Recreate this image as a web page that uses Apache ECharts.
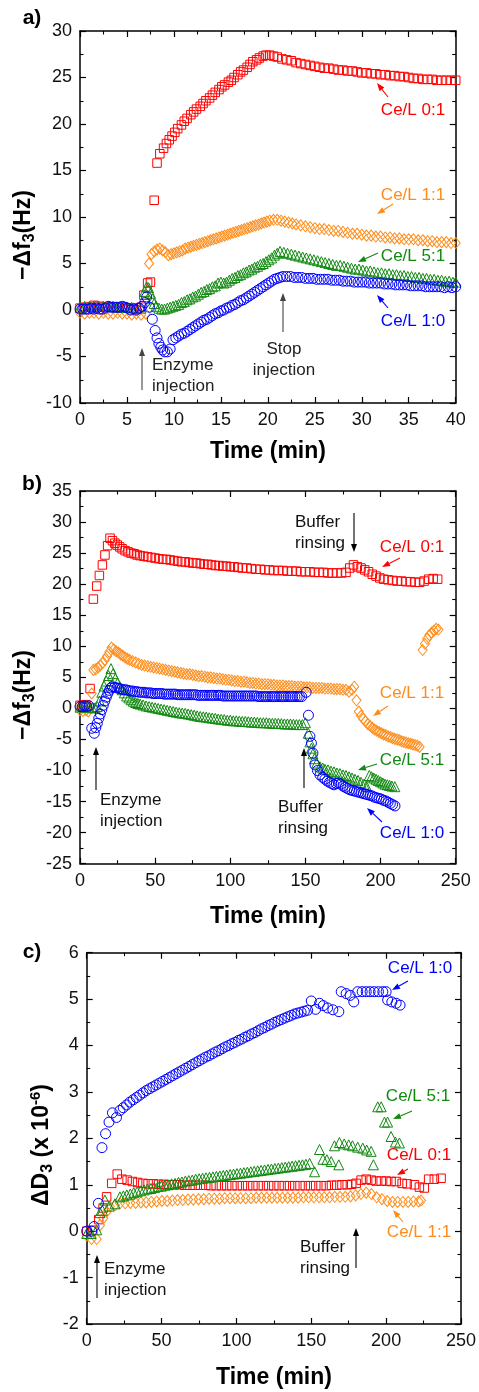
<!DOCTYPE html>
<html><head><meta charset="utf-8">
<script src="https://cdn.jsdelivr.net/npm/echarts@6/dist/echarts.min.js"></script>
<style>html,body{margin:0;padding:0;background:#fff}#c{width:479px;height:1392px}</style>
</head><body><div id="c"></div>
<script>
// ---------- Panel a: -Δf3 (Hz) vs time (min) ----------
const aRed = [[0,0.2],[0.5,0.3],[1,0.3],[1.5,0.5],[2,0.4],[2.5,0.3],[3,0.3],[3.5,0.3],[4,0.3],[4.5,0.2],[5,0.2],[5.5,0.2],[6,0.2],[6.5,0.3],[6.8,1.6],[7.2,2.9],[7.5,3.0],[7.9,11.8],[8.2,15.8],[8.5,16.8],[8.9,17.4],[9.2,17.9],[9.5,18.3],[9.8,18.7],[10.1,19.1],[10.4,19.5],[10.8,19.9],[11.1,20.3],[11.4,20.6],[11.8,21.0],[12.1,21.3],[12.4,21.6],[12.8,21.9],[13.1,22.2],[13.4,22.5],[13.8,22.8],[14.1,23.1],[14.4,23.4],[14.8,23.7],[15.1,24.0],[15.4,24.2],[15.8,24.5],[16.1,24.7],[16.4,25.0],[16.8,25.3],[17.1,25.6],[17.4,25.8],[17.8,26.1],[18.1,26.4],[18.4,26.7],[18.8,26.9],[19.1,27.1],[19.5,27.3],[19.8,27.4],[20.2,27.4],[20.6,27.3],[21.0,27.2],[21.5,27.0],[22.0,26.9],[22.5,26.8],[23.0,26.6],[23.5,26.5],[24.0,26.4],[24.5,26.3],[25.0,26.2],[25.5,26.1],[26.0,26.0],[26.5,26.0],[27.0,25.9],[27.5,25.8],[28.0,25.8],[28.5,25.7],[29.0,25.7],[29.5,25.6],[30.0,25.5],[30.5,25.5],[31.0,25.4],[31.5,25.4],[32.0,25.3],[32.5,25.3],[33.0,25.2],[33.5,25.2],[34.0,25.1],[34.5,25.1],[35.0,25.0],[35.5,24.9],[36.0,24.9],[36.5,24.8],[37.0,24.8],[37.5,24.8],[38.0,24.7],[38.5,24.7],[39.0,24.7],[39.5,24.7],[40,24.7]];
const aOrange = [[0,-0.3],[0.5,-0.4],[1,-0.3],[1.5,-0.3],[2,-0.4],[2.5,-0.3],[3,-0.4],[3.5,-0.4],[4,-0.3],[4.5,-0.4],[5,-0.4],[5.5,-0.5],[6,-0.4],[6.5,-0.5],[7.0,-0.4],[7.35,5.0],[7.6,6.0],[7.9,6.3],[8.2,6.5],[8.5,6.6],[8.8,6.4],[9.1,6.2],[9.4,5.9],[9.7,6.0],[10.0,6.1],[10.3,6.2],[10.6,6.3],[10.9,6.4],[11.2,6.6],[11.5,6.7],[11.8,6.8],[12.1,6.9],[12.4,7.0],[12.7,7.1],[13.0,7.2],[13.3,7.3],[13.6,7.4],[13.9,7.5],[14.2,7.6],[14.5,7.7],[14.8,7.8],[15.1,7.9],[15.4,8.0],[15.7,8.1],[16.0,8.2],[16.3,8.3],[16.6,8.4],[16.9,8.5],[17.2,8.6],[17.5,8.7],[17.8,8.8],[18.1,8.9],[18.4,9.0],[18.7,9.1],[19.0,9.2],[19.3,9.3],[19.6,9.4],[19.9,9.5],[20.2,9.6],[20.6,9.7],[21.0,9.7],[21.4,9.6],[21.8,9.5],[22.2,9.4],[22.6,9.3],[23.0,9.2],[23.5,9.1],[24.0,9.0],[24.5,8.9],[25.0,8.8],[25.5,8.7],[26.0,8.7],[26.5,8.6],[27.0,8.5],[27.5,8.5],[28.0,8.4],[28.5,8.3],[29.0,8.2],[29.5,8.2],[30.0,8.1],[30.5,8.0],[31.0,8.0],[31.5,7.9],[32.0,7.9],[32.5,7.8],[33.0,7.8],[33.5,7.7],[34.0,7.7],[34.5,7.6],[35.0,7.6],[35.5,7.6],[36.0,7.5],[36.5,7.5],[37.0,7.4],[37.5,7.4],[38.0,7.3],[38.5,7.3],[39.0,7.3],[39.5,7.2],[40.0,7.2]];
const aGreen = [[0,0.3],[0.5,0.4],[1,0.4],[1.5,0.4],[2,0.4],[2.5,0.4],[3,0.4],[3.5,0.4],[4,0.3],[4.5,0.3],[5,0.3],[5.5,0.3],[6,0.2],[6.5,0.2],[6.9,2.0],[7.1,2.5],[7.3,2.4],[7.5,1.8],[7.7,1.2],[7.9,0.7],[8.1,0.4],[8.4,0.2],[8.7,0.1],[9.0,0.1],[9.3,0.2],[9.6,0.3],[9.9,0.4],[10.2,0.5],[10.5,0.6],[10.8,0.8],[11.1,0.9],[11.4,1.1],[11.7,1.2],[12.0,1.4],[12.3,1.5],[12.6,1.7],[12.9,1.9],[13.2,2.0],[13.5,2.2],[13.8,2.3],[14.1,2.5],[14.4,2.6],[14.7,2.9],[15.0,3.0],[15.3,2.9],[15.6,3.0],[15.9,3.2],[16.2,3.4],[16.5,3.5],[16.8,3.7],[17.1,3.8],[17.4,4.0],[17.7,4.1],[18.0,4.3],[18.3,4.4],[18.6,4.6],[18.9,4.7],[19.2,4.9],[19.5,5.0],[19.8,5.2],[20.1,5.4],[20.4,5.6],[20.7,5.9],[21.0,6.1],[21.3,6.3],[21.7,6.2],[22.1,6.1],[22.5,6.0],[22.9,5.9],[23.3,5.8],[23.7,5.7],[24.1,5.6],[24.5,5.5],[24.9,5.4],[25.3,5.3],[25.7,5.2],[26.1,5.1],[26.5,5.0],[26.9,4.9],[27.3,4.8],[27.7,4.8],[28.1,4.7],[28.5,4.6],[28.9,4.5],[29.3,4.4],[29.7,4.4],[30.1,4.3],[30.5,4.2],[30.9,4.2],[31.3,4.1],[31.7,4.0],[32.1,4.0],[32.5,3.9],[32.9,3.9],[33.3,3.8],[33.7,3.8],[34.1,3.7],[34.5,3.7],[34.9,3.6],[35.3,3.6],[35.7,3.5],[36.1,3.5],[36.5,3.4],[36.9,3.4],[37.3,3.3],[37.7,3.3],[38.1,3.2],[38.5,3.2],[38.9,3.1],[39.3,3.1],[39.7,3.0],[40,3.0]];
const aBlue = [[0,0.1],[0.3,0.1],[0.6,0.1],[0.9,0.1],[1.2,0.2],[1.5,0.1],[1.8,0.2],[2.1,0.1],[2.4,0.1],[2.7,0.2],[3.0,0.4],[3.3,0.3],[3.6,0.3],[3.9,0.3],[4.2,0.3],[4.5,0.4],[4.8,0.3],[5.1,0.2],[5.4,0.0],[5.7,0.1],[6.0,0.0],[6.3,0.2],[6.6,0.4],[6.9,0.8],[7.1,1.4],[7.4,0.3],[7.7,-1.0],[8.0,-2.2],[8.2,-3.0],[8.4,-3.6],[8.6,-4.0],[8.8,-4.3],[9.0,-4.5],[9.3,-4.5],[9.6,-4.2],[9.9,-3.2],[10.2,-3.0],[10.5,-2.8],[10.8,-2.6],[11.1,-2.5],[11.4,-2.3],[11.7,-2.1],[12.0,-1.9],[12.3,-1.7],[12.6,-1.5],[12.9,-1.3],[13.2,-1.1],[13.5,-1.0],[13.8,-0.8],[14.1,-0.6],[14.4,-0.4],[14.7,-0.3],[15.0,-0.1],[15.3,0.0],[15.6,0.2],[15.9,0.3],[16.2,0.5],[16.5,0.6],[16.8,0.8],[17.1,1.0],[17.4,1.1],[17.7,1.3],[18.0,1.5],[18.3,1.7],[18.6,1.9],[18.9,2.1],[19.2,2.3],[19.5,2.5],[19.8,2.7],[20.1,2.9],[20.4,3.1],[20.7,3.3],[21.0,3.4],[21.3,3.5],[21.6,3.6],[22.0,3.6],[22.4,3.6],[22.8,3.5],[23.2,3.5],[23.6,3.5],[24.0,3.4],[24.4,3.4],[24.8,3.4],[25.2,3.3],[25.6,3.3],[26.0,3.3],[26.4,3.3],[26.8,3.2],[27.2,3.2],[27.6,3.2],[28.0,3.1],[28.4,3.1],[28.8,3.1],[29.2,3.0],[29.6,3.0],[30.0,3.0],[30.4,3.0],[30.8,2.9],[31.2,2.9],[31.6,2.9],[32.0,2.9],[32.4,2.8],[32.8,2.8],[33.2,2.8],[33.6,2.7],[34.0,2.7],[34.4,2.7],[34.8,2.7],[35.2,2.6],[35.6,2.6],[36.0,2.6],[36.4,2.6],[36.8,2.5],[37.2,2.5],[37.6,2.5],[38.0,2.5],[38.4,2.5],[38.8,2.4],[39.2,2.5],[39.6,2.4],[40.0,2.5]];

// ---------- Panel b: -Δf3 (Hz) vs time (min) ----------
const bRed = [[0,0.5],[2,0.5],[4,0.6],[6.7,3.2],[8.9,17.6],[11.1,19.7],[12.9,21.4],[14.9,23.1],[16.6,24.7],[18.4,26.2],[20.0,27.4],[21.6,27.0],[23.2,26.6],[24.8,26.3],[26.4,26.0],[28.0,25.7],[30,25.4],[32,25.2],[34,25.0],[36,24.9],[38,24.7],[40,24.6],[42.5,24.5],[45,24.4],[47.5,24.3],[50,24.2],[52.5,24.1],[55,24.0],[57.5,24.0],[60,23.9],[62.5,23.8],[65,23.7],[67.5,23.6],[70,23.6],[72.5,23.5],[75,23.4],[77.5,23.4],[80,23.3],[82.5,23.2],[85,23.2],[87.5,23.1],[90,23.0],[92.5,23.0],[95,22.9],[97.5,22.9],[100,22.8],[102.5,22.8],[105,22.7],[108,22.6],[111,22.6],[114,22.5],[117,22.4],[120,22.4],[123,22.3],[126,22.3],[129,22.2],[132,22.2],[135,22.2],[138,22.1],[141,22.1],[144,22.1],[147,22.0],[150,22.0],[153,22.0],[156,21.9],[159,21.9],[162,21.9],[165,21.8],[168,21.8],[171,21.8],[174,21.8],[177,21.9],[179.5,22.6],[182,23.1],[184.5,22.8],[187,22.6],[189.5,22.3],[192,22.0],[194.5,21.6],[197,21.3],[199.5,21.0],[202,20.8],[205,20.7],[208,20.6],[211,20.5],[214,20.5],[217,20.4],[220,20.4],[223,20.3],[226,20.3],[229,20.5],[232,20.8],[235,20.9],[238,20.8]];
const bOrange = [[0,-0.3],[2,-0.4],[4,-0.3],[5.5,-0.5],[7.8,2.4],[8.9,6.2],[10.5,6.3],[12,6.6],[13.5,6.9],[15,7.3],[16.5,7.8],[18,8.4],[19.5,9.1],[21,9.8],[22.5,9.5],[24,9.2],[25.5,9.0],[27,8.7],[28.5,8.5],[30,8.2],[31.5,8.0],[33,7.8],[35,7.6],[37,7.4],[39,7.2],[41,7.0],[43,6.9],[45,6.8],[47,6.7],[49,6.6],[51,6.5],[53,6.4],[55,6.3],[57,6.2],[59,6.1],[61,6.0],[63,5.9],[65,5.8],[67,5.7],[69,5.6],[71,5.5],[73,5.5],[75,5.4],[77,5.3],[79,5.2],[81,5.2],[83,5.1],[85,5.0],[87,5.0],[89,4.9],[91,4.8],[93,4.8],[95,4.7],[97,4.6],[99,4.6],[101,4.5],[103,4.4],[105,4.4],[107,4.3],[109,4.3],[111,4.2],[113,4.1],[115,4.1],[117,4.0],[119,4.0],[121,3.9],[123,3.9],[125,3.9],[127,3.8],[129,3.8],[131,3.7],[133,3.7],[135,3.7],[137,3.6],[139,3.6],[141,3.6],[143,3.5],[145,3.5],[147,3.5],[149,3.4],[151,3.4],[153,3.4],[155,3.3],[157,3.3],[159,3.3],[161,3.3],[163,3.2],[165,3.2],[167,3.2],[169,3.1],[171,3.1],[173,3.1],[175,3.0],[177,3.0],[179,2.7],[181,3.0],[182.5,3.5],[184,1.3],[185.5,-0.5],[187,-1.2],[188.5,-1.7],[190,-2.1],[191.5,-2.5],[193,-2.8],[194.5,-3.1],[196,-3.4],[197.5,-3.6],[199,-3.8],[200.5,-4.0],[202,-4.2],[203.5,-4.3],[205,-4.5],[206.5,-4.6],[208,-4.8],[209.5,-4.9],[211,-5.0],[212.5,-5.1],[214,-5.3],[215.5,-5.4],[217,-5.5],[218.5,-5.6],[220,-5.7],[221.5,-5.8],[223,-5.9],[224.5,-6.0],[226,-6.2],[228,9.4],[229.5,10.4],[231,11.2],[232.5,11.8],[234,12.2],[235.5,12.5],[237,12.8],[238.5,12.7]];
const bGreen = [[0,0.2],[2,0.3],[4,0.2],[6,0.2],[8,0.1],[10,0.1],[11.5,0.3],[13,1.2],[14.5,2.6],[16,3.6],[17.5,4.4],[19,5.3],[20.6,6.4],[22,5.6],[23.5,4.8],[25,4.1],[26.5,3.5],[28,3.0],[29.5,2.5],[31,2.0],[32.5,1.7],[34,1.4],[35.5,1.15],[37,0.95],[38.5,0.8],[40,0.7],[42,0.55],[44,0.4],[46,0.3],[48,0.2],[50,0.1],[52,0.0],[54,-0.1],[56,-0.2],[58,-0.3],[60,-0.4],[62,-0.5],[64,-0.6],[66,-0.7],[68,-0.75],[70,-0.8],[72,-0.9],[74,-1.0],[76,-1.1],[78,-1.2],[80,-1.3],[82,-1.35],[84,-1.4],[86,-1.5],[88,-1.55],[90,-1.6],[92,-1.7],[94,-1.75],[96,-1.8],[98,-1.9],[100,-1.9],[102,-2.0],[104,-2.0],[106,-2.05],[108,-2.1],[110,-2.1],[112,-2.15],[114,-2.2],[116,-2.2],[118,-2.25],[120,-2.3],[122,-2.3],[124,-2.3],[126,-2.35],[128,-2.4],[130,-2.4],[132,-2.4],[134,-2.45],[136,-2.5],[138,-2.5],[140,-2.5],[142,-2.55],[144,-2.6],[146,-2.6],[148,-2.6],[150,-2.3],[151.9,-4.0],[153,-5.4],[154,-6.4],[155,-7.3],[156,-8.1],[157.5,-8.8],[159.7,-9.4],[161.5,-9.6],[163,-9.8],[165,-9.9],[167,-10.1],[169,-10.2],[171,-10.4],[173,-10.5],[175,-10.7],[177,-10.8],[179,-11.0],[181,-11.2],[183,-11.4],[185,-11.6],[187,-11.9],[189,-12.2],[190.8,-12.6],[192.5,-10.8],[194,-11.0],[195.5,-11.2],[197,-11.4],[198.5,-11.6],[200,-11.8],[201.5,-12.0],[203,-12.2],[204.5,-12.3],[206,-12.4],[207.5,-12.5],[209.5,-12.6]];
const bBlue = [[0,0.3],[1.5,0.3],[3,0.4],[4.5,0.3],[6,0.4],[7.8,-3.2],[9.5,-4.0],[10.5,-3.1],[11.5,-2.4],[12.5,-1.6],[13.5,-0.9],[14.5,-0.2],[15.5,0.5],[16.5,1.2],[17.5,1.8],[18.5,2.4],[19.5,2.9],[20.5,3.3],[21.5,3.5],[23,3.4],[24.5,3.3],[26,3.2],[27.5,3.1],[29,3.0],[30.5,3.0],[32,2.9],[33.5,2.8],[35,2.8],[36.5,2.7],[38,2.7],[39.5,2.6],[41,2.6],[42.5,2.6],[44,2.5],[45.5,2.5],[47,2.5],[48.5,2.4],[50,2.4],[51.5,2.4],[53,2.4],[54.5,2.4],[56,2.3],[57.5,2.3],[59,2.3],[60.5,2.3],[62,2.3],[63.5,2.3],[65,2.2],[66.5,2.2],[68,2.2],[69.5,2.2],[71,2.2],[72.5,2.2],[74,2.2],[75.5,2.2],[77,2.2],[78.5,2.1],[80,2.1],[81.5,2.1],[83,2.1],[84.5,2.1],[86,2.1],[87.5,2.1],[89,2.1],[90.5,2.1],[92,2.1],[93.5,2.1],[95,2.0],[96.5,2.0],[98,2.0],[99.5,2.0],[101,2.0],[102.5,2.0],[104,2.0],[105.5,2.0],[107,2.0],[108.5,2.0],[110,2.0],[111.5,2.0],[113,2.0],[114.5,2.0],[116,2.0],[117.5,2.0],[119,1.9],[120.5,1.9],[122,1.9],[123.5,1.9],[125,1.9],[126.5,1.9],[128,1.9],[129.5,1.9],[131,1.9],[132.5,1.9],[134,1.9],[135.5,1.9],[137,1.9],[138.5,1.9],[140,1.9],[141.5,1.9],[143,1.9],[144.5,1.9],[146,1.9],[147.5,1.9],[150.5,2.6],[152,-1.1],[153,-4.5],[154,-5.6],[155,-7.2],[156.4,-9.1],[158,-10.0],[159.7,-10.7],[161.5,-11.1],[163,-11.4],[164.5,-11.7],[166,-11.9],[167.5,-12.1],[169,-12.3],[170.5,-12.1],[172,-12.0],[173.5,-12.2],[175,-12.5],[176.5,-12.7],[178,-12.9],[179.5,-13.1],[181,-13.2],[182.5,-13.3],[184,-13.4],[185.5,-13.5],[187,-13.6],[188.5,-13.7],[190,-13.8],[191.5,-13.9],[193,-14.0],[194.5,-14.1],[196,-14.3],[197.5,-14.4],[199,-14.5],[200.5,-14.6],[202,-14.8],[203.5,-14.9],[205,-15.1],[206.5,-15.3],[208,-15.5],[209.6,-15.7]];

// ---------- Panel c: ΔD3 (x 10^-6) vs time (min) ----------
const cRed = [[0,0.0],[4,0.02],[8,0.25],[11,0.5],[13.3,0.74],[16.7,1.03],[20.4,1.23],[23.5,1.12],[27,1.1],[30.5,1.07],[34,1.05],[37.5,1.03],[41,1.02],[44.5,1.02],[48,1.01],[51.5,1.01],[55,1.0],[58.5,1.0],[62,1.0],[65.5,0.99],[69,0.99],[72.5,0.99],[76,0.99],[79.5,0.99],[83,0.98],[86.5,0.98],[90,0.98],[93.5,0.98],[97,0.98],[100.5,0.98],[104,0.98],[107.5,0.98],[111,0.98],[114.5,0.98],[118,0.98],[121.5,0.98],[125,0.98],[128.5,0.98],[132,0.98],[135.5,0.98],[139,0.98],[142.5,0.98],[146,0.98],[149.5,0.98],[153,0.98],[156.5,0.98],[160,0.98],[163.5,0.99],[167,0.99],[170.5,1.0],[174,1.0],[177,1.01],[180,1.03],[183.3,1.1],[186.7,1.12],[190,1.1],[193.3,1.08],[196.7,1.08],[200,1.08],[203.3,1.07],[206.7,1.07],[210.7,1.03],[214,1.02],[218.9,1.0],[222.2,0.95],[225.5,0.93],[228.4,1.12],[232.2,1.12],[236.7,1.14]];
const cOrange = [[0,-0.1],[3.3,-0.17],[6.7,-0.17],[8.9,0.13],[11.1,0.28],[13.3,0.42],[15.5,0.53],[18.9,0.56],[22.2,0.6],[25.7,0.6],[29.2,0.61],[32.7,0.61],[36.2,0.62],[39.7,0.62],[43.2,0.63],[46.7,0.64],[50.2,0.65],[53.7,0.65],[57.2,0.66],[60.7,0.67],[64.2,0.67],[67.7,0.68],[71.2,0.68],[74.7,0.69],[78.2,0.69],[81.7,0.7],[85.2,0.7],[88.7,0.7],[92.2,0.71],[95.7,0.71],[99.2,0.71],[102.7,0.71],[106.2,0.71],[109.7,0.71],[113.2,0.72],[116.7,0.72],[120.2,0.72],[123.7,0.72],[127.2,0.72],[130.7,0.72],[134.2,0.72],[137.7,0.72],[141.2,0.72],[144.7,0.73],[148.2,0.73],[151.7,0.73],[155.2,0.73],[158.7,0.73],[162.2,0.73],[165.7,0.74],[169.2,0.74],[172.7,0.74],[176.2,0.75],[179.7,0.77],[183.2,0.8],[186.7,0.83],[190.2,0.8],[193.7,0.73],[197.2,0.69],[200.7,0.65],[204.2,0.63],[207.7,0.63],[211.2,0.63],[214.7,0.63],[218.2,0.64],[221.7,0.64],[223.3,0.66]];
const cGreen = [[0,-0.05],[3,-0.05],[6.7,0.03],[8.9,0.4],[10.5,0.45],[12.2,0.67],[15,0.54],[18.9,0.59],[22.2,0.74],[24.5,0.76],[26.8,0.78],[29.1,0.8],[31.4,0.83],[33.7,0.85],[36,0.87],[38.3,0.89],[40.6,0.91],[42.9,0.92],[45.2,0.94],[47.5,0.96],[49.8,0.97],[52.1,0.99],[54.4,1.0],[56.7,1.02],[59,1.03],[61.3,1.05],[63.6,1.06],[65.9,1.08],[68.2,1.09],[70.5,1.1],[72.8,1.12],[75.1,1.13],[77.4,1.14],[79.7,1.15],[82,1.16],[84.3,1.17],[86.6,1.18],[88.9,1.19],[91.2,1.2],[93.5,1.21],[95.8,1.22],[98.1,1.23],[100.4,1.24],[102.7,1.25],[105,1.26],[107.3,1.27],[109.6,1.28],[111.9,1.29],[114.2,1.3],[116.5,1.31],[118.8,1.32],[121.1,1.33],[123.4,1.34],[125.7,1.35],[128,1.36],[130.3,1.37],[132.6,1.38],[134.9,1.39],[137.2,1.4],[139.5,1.41],[141.8,1.42],[144.1,1.43],[146.4,1.44],[148.9,1.46],[152.2,1.28],[155.5,1.76],[157.8,1.55],[160.4,1.54],[163.3,1.5],[165.5,1.84],[168.4,1.43],[168.8,1.91],[172,1.88],[175,1.86],[177.5,1.84],[181,1.81],[184.4,1.79],[187,1.75],[190,1.72],[191.5,1.43],[194.4,2.68],[196.7,2.68],[198.9,2.35],[201,2.35],[203.3,2.04],[206.2,1.92],[208.9,1.9]];
const cBlue = [[0,0.0],[3.3,0.0],[4.9,0.1],[7.8,0.6],[10.2,1.8],[12.6,2.1],[14.9,2.35],[17.2,2.55],[19.9,2.45],[22.2,2.6],[24.4,2.66],[26.6,2.72],[28.8,2.78],[31,2.83],[33.2,2.88],[35.4,2.93],[37.6,2.98],[39.8,3.03],[42,3.07],[44.2,3.11],[46.4,3.15],[48.6,3.19],[50.8,3.23],[53,3.27],[55.2,3.31],[57.4,3.35],[59.6,3.39],[61.8,3.43],[64,3.47],[66.2,3.51],[68.4,3.55],[70.6,3.59],[72.8,3.63],[75,3.67],[77.2,3.71],[79.4,3.75],[81.6,3.78],[83.8,3.82],[86,3.86],[88.2,3.89],[90.4,3.93],[92.6,3.97],[94.8,4.0],[97,4.04],[99.2,4.07],[101.4,4.11],[103.6,4.14],[105.8,4.18],[108,4.21],[110.2,4.25],[112.4,4.28],[114.6,4.32],[116.8,4.36],[119,4.39],[121.2,4.43],[123.4,4.46],[125.6,4.5],[127.8,4.53],[130,4.56],[132.2,4.59],[134.4,4.62],[136.6,4.65],[138.8,4.68],[141,4.7],[143.2,4.72],[145.4,4.74],[147.6,4.76],[150,4.96],[152.9,4.78],[155.5,4.91],[158,4.86],[160.9,4.81],[164.4,4.77],[168.4,4.73],[170,5.16],[173.3,5.12],[176,5.08],[178.4,4.94],[181,5.16],[184,5.16],[186.7,5.16],[189.3,5.16],[192,5.16],[194.9,5.16],[197.8,5.16],[200,5.16],[201,4.98],[203.8,4.94],[206.7,4.91],[209.3,4.87]];

// ---------- styling ----------
const FONT = 'Liberation Sans, Arial, Helvetica, sans-serif';
const RED = '#ff0000', ORANGE = '#ff8c1a', GREEN = '#118a11', BLUE = '#0000ff';
const grids = [
  {left: 80, top: 31, width: 375.7, height: 372},
  {left: 80, top: 491, width: 375.7, height: 372.7},
  {left: 86.7, top: 952.7, width: 375, height: 371.3}
];
const xRanges = [[0, 40, 5], [0, 250, 50], [0, 250, 50]];
const yRanges = [[-10, 30, 5], [-25, 35, 5], [-2, 6, 1]];

const axisLine = {show: true, onZero: false, lineStyle: {color: '#000', width: 1.5}};
function mkAxis(kind, g, r, pos, labels) {
  return {
    type: 'value', gridIndex: g, position: pos, min: r[0], max: r[1], interval: r[2],
    axisLine: axisLine,
    axisTick: {show: true, inside: true, length: 6, lineStyle: {color: '#000', width: 1.2}},
    minorTick: {show: true, splitNumber: 2, length: 3.5, lineStyle: {color: '#000', width: 1.1}},
    splitLine: {show: false}, minorSplitLine: {show: false},
    axisLabel: {show: labels, fontSize: 18, color: '#111', fontFamily: FONT, margin: kind === 'x' ? 8 : 8}
  };
}
const xAxis = [], yAxis = [];
for (let g = 0; g < 3; g++) {
  xAxis.push(mkAxis('x', g, xRanges[g], 'bottom', true));
  xAxis.push(mkAxis('x', g, xRanges[g], 'top', false));
  yAxis.push(mkAxis('y', g, yRanges[g], 'left', true));
  yAxis.push(mkAxis('y', g, yRanges[g], 'right', false));
}

function sc(data, g, sym, size, color) {
  return {
    type: 'scatter', data: data, xAxisIndex: g * 2, yAxisIndex: g * 2,
    symbol: sym, symbolSize: size, silent: true, animation: false,
    itemStyle: {color: 'rgba(0,0,0,0)', borderColor: color, borderWidth: 1, opacity: 1}
  };
}
const series = [
  sc(aRed, 0, 'rect', 8.5, RED), sc(aOrange, 0, 'diamond', [9, 11], ORANGE),
  sc(aGreen, 0, 'triangle', 10, GREEN), sc(aBlue, 0, 'circle', 10, BLUE),
  sc(bRed, 1, 'rect', 8.5, RED), sc(bOrange, 1, 'diamond', [9, 11], ORANGE),
  sc(bGreen, 1, 'triangle', 10, GREEN), sc(bBlue, 1, 'circle', 10, BLUE),
  sc(cRed, 2, 'rect', 8.5, RED), sc(cOrange, 2, 'diamond', [9, 11], ORANGE),
  sc(cGreen, 2, 'triangle', 10, GREEN), sc(cBlue, 2, 'circle', 10, BLUE)
];

// ---------- annotations ----------
const G = [];
function txt(x, y, s, color, align, size, bold) {
  G.push({type: 'text', x: x, y: y, silent: true, style: {
    text: s, fill: color, fontSize: size || 17, fontFamily: FONT, fontWeight: bold ? 'bold' : 'normal',
    align: align || 'center', verticalAlign: 'middle', lineHeight: 21.5}});
}
function arrow(x1, y1, x2, y2, color, w) {
  const a = Math.atan2(y2 - y1, x2 - x1), L = 8, W = 3;
  const bx = x2 - L * Math.cos(a), by = y2 - L * Math.sin(a);
  const px = -Math.sin(a) * W, py = Math.cos(a) * W;
  G.push({type: 'line', silent: true, shape: {x1: x1, y1: y1, x2: bx, y2: by}, style: {stroke: color, lineWidth: w || 1.1}});
  G.push({type: 'polygon', silent: true, shape: {points: [[x2, y2], [bx + px, by + py], [bx - px, by - py]]}, style: {fill: color}});
}
// panel labels
txt(32, 18, 'a)', '#000', 'center', 21, true);
txt(32, 484, 'b)', '#000', 'center', 21, true);
txt(32, 952, 'c)', '#000', 'center', 21, true);
// x titles
txt(268, 452, 'Time (min)', '#000', 'center', 23, true);
txt(268, 917, 'Time (min)', '#000', 'center', 23, true);
txt(274, 1378, 'Time (min)', '#000', 'center', 23, true);
// y titles
const tb = {fontSize: 23, fontWeight: 'bold', fontFamily: FONT, fill: '#000'};
const tsub = {fontSize: 16, fontWeight: 'bold', fontFamily: FONT, fill: '#000', padding: [12, 0, 0, 0]};
const tsup = {fontSize: 15, fontWeight: 'bold', fontFamily: FONT, fill: '#000', padding: [0, 0, 12, 0]};
function ytitle(x, y, s) {
  G.push({type: 'text', x: x, y: y, rotation: Math.PI / 2, silent: true,
    style: {text: s, align: 'center', verticalAlign: 'middle', rich: {b: tb, s: tsub, p: tsup}}});
}
ytitle(24, 235, '{b|\u2212\u0394f}{s|3}{b|(Hz)}');
ytitle(24, 695, '{b|\u2212\u0394f}{s|3}{b|(Hz)}');
ytitle(42, 1145, '{b|\u0394D}{s|3}{b| (x 10}{p|-6}{b|)}');

// panel a
txt(413, 110, 'Ce/L 0:1', RED); arrow(388, 97, 377, 83, RED);
txt(413, 195, 'Ce/L 1:1', ORANGE); arrow(393, 204, 377, 214, ORANGE);
txt(413, 256, 'Ce/L 5:1', GREEN); arrow(378, 253, 358, 262, GREEN);
txt(413, 321, 'Ce/L 1:0', BLUE); arrow(388, 308, 377, 295, BLUE);
txt(152, 376, 'Enzyme\ninjection', '#222', 'left'); arrow(142, 390, 142, 348, '#444');
txt(284, 360, 'Stop\ninjection', '#222', 'center'); arrow(283, 332, 283, 293, '#444');
// panel b
txt(295, 533, 'Buffer\nrinsing', '#111', 'left'); arrow(354, 513, 354, 552, '#000');
txt(412, 547, 'Ce/L 0:1', RED); arrow(400, 558, 382, 567, RED);
txt(412, 693, 'Ce/L 1:1', ORANGE); arrow(388, 706, 373, 716, ORANGE);
txt(412, 760, 'Ce/L 5:1', GREEN); arrow(377, 764, 358, 770, GREEN);
txt(412, 833, 'Ce/L 1:0', BLUE); arrow(382, 822, 367, 808, BLUE);
txt(100, 811, 'Enzyme\ninjection', '#111', 'left'); arrow(96, 790, 96, 747, '#000');
txt(278, 818, 'Buffer\nrinsing', '#111', 'left'); arrow(304, 788, 304, 748, '#000');
// panel c
txt(420, 968, 'Ce/L 1:0', BLUE); arrow(408, 981, 392, 990, BLUE);
txt(418, 1096, 'Ce/L 5:1', GREEN); arrow(412, 1111, 393, 1119, GREEN);
txt(419, 1155, 'Ce/L 0:1', RED); arrow(408, 1169, 397, 1175, RED);
txt(419, 1232, 'Ce/L 1:1', ORANGE); arrow(403, 1222, 393, 1210, ORANGE);
txt(300, 1258, 'Buffer\nrinsing', '#111', 'left'); arrow(356, 1268, 356, 1228, '#000');
txt(104, 1280, 'Enzyme\ninjection', '#111', 'left'); arrow(97, 1298, 97, 1255, '#000');

const chart = echarts.init(document.getElementById('c'), null, {renderer: 'canvas'});
chart.setOption({
  animation: false, backgroundColor: '#fff',
  grid: grids, xAxis: xAxis, yAxis: yAxis, series: series, graphic: G
});
</script></body></html>
